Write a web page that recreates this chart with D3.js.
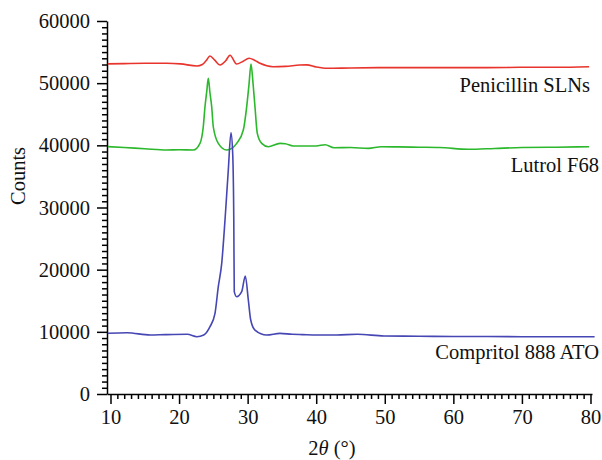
<!DOCTYPE html>
<html><head><meta charset="utf-8">
<script src="https://cdn.jsdelivr.net/npm/d3@7"></script>
<style>
body{margin:0;background:#fff}
svg{display:block}
text{font-family:"Liberation Serif","Times New Roman",serif;fill:#111}
</style>
</head><body>
<svg id="chart" width="602" height="460"></svg>
<script>
// ---- data (2θ in degrees, counts) ----
const penicillinX = [9.6, 12, 15, 18.2, 20.2, 22.6, 23.4, 24.0, 24.5, 25.2, 25.97, 26.8, 27.43, 28.4, 29.3, 30.2, 31.0, 31.8, 33.7, 35.5, 37.6, 38.6, 40, 41.6, 45, 50, 55, 60, 65, 70, 75, 79.8];
const penicillinY = [53100, 53150, 53200, 53200, 53100, 52760, 53000, 53700, 54370, 53700, 52920, 53600, 54500, 53080, 53500, 54000, 53700, 53190, 52650, 52700, 52920, 52950, 52600, 52390, 52450, 52500, 52500, 52500, 52500, 52550, 52550, 52650];

const lutrolX = [9.6, 12, 15, 18.2, 20, 22.08, 23.05, 23.53, 23.78, 24.05, 24.26, 24.5, 24.76, 24.99, 25.72, 26.95, 27.43, 28.41, 29.37, 29.86, 30.2, 30.49, 30.8, 31.07, 31.41, 32.05, 33.01, 34.72, 35.5, 36.66, 38, 40, 41.3, 42.6, 45, 47.6, 49.5, 52, 55, 58, 62.2, 66, 70, 75, 79.8];
const lutrolY = [39800, 39650, 39450, 39250, 39300, 39250, 40320, 42990, 46200, 48800, 50800, 48500, 46200, 42990, 40320, 39250, 39360, 40320, 42460, 46200, 49800, 53080, 49800, 46200, 41930, 40320, 39780, 40320, 40250, 39890, 39900, 39900, 40100, 39620, 39650, 39510, 39780, 39750, 39700, 39650, 39360, 39500, 39650, 39700, 39780];

const compritolX = [9.6, 12.4, 15.8, 18, 21.2, 22.6, 23.6, 24.51, 25.24, 25.72, 26.22, 26.7, 27.18, 27.57, 27.82, 27.98, 28.05, 28.4, 29.13, 29.66, 30.1, 30.45, 31.07, 32.78, 34.72, 36.5, 38, 40.2, 43, 46, 49.9, 55, 60, 65, 70, 75, 80.6];
const compritolY = [9760, 9860, 9490, 9550, 9600, 9220, 9490, 10830, 12980, 17260, 21020, 27990, 36030, 42030, 38720, 27990, 16460, 15650, 16460, 18980, 15120, 11900, 10290, 9490, 9760, 9600, 9550, 9490, 9500, 9600, 9330, 9300, 9250, 9250, 9220, 9220, 9220];

const seriesNames = ["Penicillin SLNs", "Lutrol F68", "Compritol 888 ATO"];
const seriesColors = ["#e8342c", "#2cb82c", "#4646b4"];

const yTicks = [0, 10000, 20000, 30000, 40000, 50000, 60000];
const xTicks = [10, 20, 30, 40, 50, 60, 70, 80];

// ---- layout ----
const svg = d3.select("#chart");
const FONT = 20.5;
const x = d3.scaleLinear().domain([9.49, 80.22]).range([107, 592]);
const y = d3.scaleLinear().domain([0, 60000]).range([394, 21]);

// minor ticks
const yMinor = d3.range(0, 60001, 1000).filter(v => v % 10000 !== 0);
const xMinor = d3.range(10, 81, 1).filter(v => v % 10 !== 0);

svg.append("g").attr("transform", "translate(107,0)")
  .call(d3.axisLeft(y).tickValues(yMinor).tickSize(5).tickFormat(""))
  .call(g => g.select(".domain").remove())
  .call(g => g.selectAll("line").attr("stroke", "#000").attr("stroke-width", 1.5));

svg.append("g").attr("transform", "translate(0,394)")
  .call(d3.axisBottom(x).tickValues(xMinor).tickSize(5).tickFormat(""))
  .call(g => g.select(".domain").remove())
  .call(g => g.selectAll("line").attr("stroke", "#000").attr("stroke-width", 1.5));

const yAxis = svg.append("g").attr("transform", "translate(107,0)")
  .call(d3.axisLeft(y).tickValues(yTicks).tickSize(10).tickSizeOuter(0).tickPadding(7).tickFormat(d3.format("d")));
yAxis.select(".domain").attr("stroke", "#000").attr("stroke-width", 1.5);
yAxis.selectAll("line").attr("stroke", "#000").attr("stroke-width", 1.5);
yAxis.selectAll("text").attr("font-size", FONT).attr("font-family", "Liberation Serif").attr("fill", "#111");

const xAxis = svg.append("g").attr("transform", "translate(0,394)")
  .call(d3.axisBottom(x).tickValues(xTicks).tickSize(10).tickSizeOuter(0).tickPadding(5).tickFormat(d3.format("d")));
xAxis.select(".domain").attr("stroke", "#000").attr("stroke-width", 1.5);
xAxis.selectAll("line").attr("stroke", "#000").attr("stroke-width", 1.5);
xAxis.selectAll("text").attr("font-size", FONT).attr("font-family", "Liberation Serif").attr("fill", "#111");

// ---- lines ----
const line = d3.line().x(d => x(d[0])).y(d => y(d[1])).curve(d3.curveMonotoneX);
const data = [
  d3.zip(penicillinX, penicillinY),
  d3.zip(lutrolX, lutrolY),
  d3.zip(compritolX, compritolY)
];
data.forEach((pts, i) => {
  svg.append("path").datum(pts)
    .attr("d", line)
    .attr("fill", "none")
    .attr("stroke", seriesColors[i])
    .attr("stroke-width", 1.6)
    .attr("stroke-linejoin", "round");
});

// ---- series labels ----
const labelPos = [[590, 92], [599, 172], [599, 359]];
seriesNames.forEach((n, i) => {
  svg.append("text").attr("x", labelPos[i][0]).attr("y", labelPos[i][1])
    .attr("text-anchor", "end").attr("font-size", FONT).text(n);
});

// ---- axis titles ----
const xt = svg.append("text").attr("x", 332).attr("y", 455)
  .attr("text-anchor", "middle").attr("font-size", FONT);
xt.append("tspan").text("2");
xt.append("tspan").attr("font-style", "italic").text("θ");
xt.append("tspan").text(" (°)");

svg.append("text").attr("transform", "translate(25,176) rotate(-90)")
  .attr("text-anchor", "middle").attr("font-size", FONT).text("Counts");
</script>
</body></html>
